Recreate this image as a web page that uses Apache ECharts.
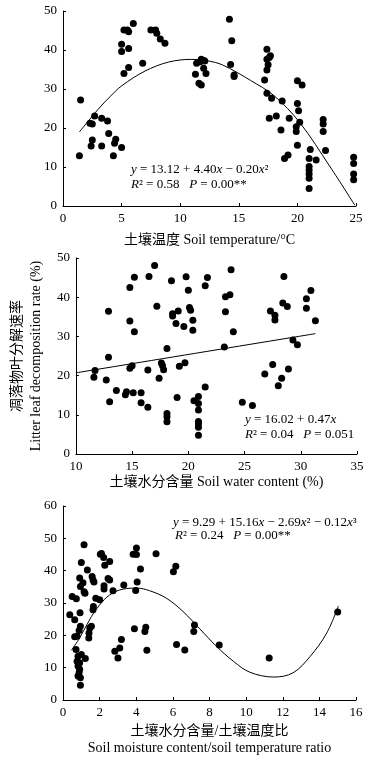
<!DOCTYPE html>
<html>
<head>
<meta charset="utf-8">
<script src="https://cdn.jsdelivr.net/npm/echarts@6/dist/echarts.min.js"></script>
<style>
html,body{margin:0;padding:0;background:#fff;}
#main{width:375px;height:758px;}
</style>
</head>
<body>
<div id="main"></div>
<script>
// panel 1: soil temperature vs decomposition rate
var tempPts = [
    [1.4,12.9],[1.5,27.2],[2.3,21.2],[2.5,21.0],[2.7,23.1],[2.4,15.4],[2.5,16.9],[3.3,22.5],[3.3,15.4],[3.8,21.8],
    [3.9,18.6],[4.3,12.9],[4.4,16.1],[4.5,17.1],[5.0,15.0],[5.0,41.5],[5.0,39.6],[5.2,45.1],[5.2,34.0],[5.5,45.1],
    [5.6,44.7],[5.6,40.4],[5.6,35.5],[6.0,46.8],[6.8,36.6],[7.5,45.1],[7.9,45.1],[8.0,44.3],[8.3,42.8],[8.7,41.7],
    [11.3,33.8],[11.4,36.6],[11.6,31.5],[11.7,37.0],[11.8,31.0],[11.8,37.6],[12.0,37.3],[12.0,35.3],[12.1,37.2],[12.2,34.0],
    [14.2,47.9],[14.4,42.4],[14.3,36.3],[14.6,33.6],[14.6,33.2],[17.2,32.3],[17.4,40.2],[17.4,37.6],[17.5,36.2],[17.4,34.9],
    [17.6,38.1],[17.7,38.5],[17.4,28.9],[17.6,22.5],[17.8,27.6],[18.2,23.1],[18.6,19.5],[18.7,26.9],[18.9,12.2],[19.2,13.1],
    [19.3,22.5],[19.9,20.3],[19.9,19.1],[20.0,26.3],[20.0,32.1],[20.0,15.6],[20.1,24.4],[20.2,21.5],[20.4,31.0],[21.1,14.5],
    [21.0,12.2],[21.0,10.1],[21.0,9.2],[21.0,8.2],[21.0,7.1],[21.0,4.5],[21.6,11.8],[22.2,22.2],[22.2,21.0],[22.2,19.1],
    [22.4,14.2],[24.8,12.5],[24.8,10.9],[24.8,8.2],[24.8,6.7]
];
var tempFit = [
    [1.4,19.0],[3,24.8],[4,28.0],[5,30.8],[7,34.6],[9,36.9],[11,37.6],[13,36.8],[14.2,35.3],
    [16,32.2],[18,28.3],[20.2,21.4],[22.8,10.0],[24.9,0.2]
];

// panel 2: soil water content
var waterPts = [
    [11.6,19.6],[11.7,21.3],[12.7,18.9],[12.9,36.4],[12.9,24.7],[13.0,13.3],[13.6,16.2],[14.4,15.1],[14.5,15.9],[14.8,42.5],
    [14.8,33.9],[14.8,21.9],[15.0,22.5],[15.1,15.6],[15.2,45.1],[15.2,31.2],[15.8,13.1],[15.8,15.6],[16.4,11.9],[16.4,21.4],
    [16.5,45.3],[17.0,48.1],[17.2,37.7],[17.4,19.3],[17.6,23.2],[17.7,22.6],[17.8,21.5],[18.1,26.9],[18.1,10.3],[18.1,9.5],
    [18.1,8.2],[18.5,44.2],[18.6,35.8],[18.6,35.2],[18.9,33.3],[19.0,14.4],[19.1,36.5],[19.2,22.4],[19.6,32.5],[19.7,23.3],
    [19.8,45.2],[20.0,41.8],[20.1,37.4],[20.2,36.7],[20.4,34.1],[20.4,31.6],[20.5,13.6],[20.9,14.7],[20.9,12.9],[20.9,11.2],
    [20.9,8.3],[20.9,7.7],[20.9,6.8],[20.9,4.8],[21.5,17.1],[21.5,42.9],[21.7,45.0],[23.2,27.3],[23.3,36.3],[23.3,40.1],
    [23.7,40.6],[23.8,47.0],[24.0,31.2],[24.8,13.2],[25.7,12.4],[26.8,20.4],[27.3,36.5],[27.5,22.8],[27.7,35.4],[27.7,34.2],
    [28.0,17.4],[28.3,19.3],[28.4,38.5],[28.5,45.3],[28.8,37.6],[28.9,21.7],[29.3,29.1],[29.7,27.9],[30.5,39.6],[30.5,37.2],
    [30.9,41.7],[31.3,34.0]
];
var waterFit = [[10,20.7],[31.3,30.7]];

// panel 3: moisture / temperature ratio
var ratioPts = [
    [0.37,26.4],[0.5,32.0],[0.64,24.8],[0.73,31.3],[0.64,19.6],[0.77,19.7],[0.93,27.0],[0.95,22.8],[0.88,21.5],[0.71,15.6],
    [0.82,13.5],[1.0,14.1],[1.22,12.8],[0.77,12.0],[0.91,11.5],[0.82,10.5],[0.91,9.5],[0.88,8.4],[0.82,7.4],[0.95,6.9],
    [0.95,4.6],[1.15,48.0],[1.0,42.5],[1.33,40.2],[0.91,37.7],[1.09,36.3],[1.59,38.2],[1.64,37.1],[1.69,36.5],[0.95,35.1],
    [1.15,33.5],[1.2,33.0],[1.66,28.9],[1.64,27.9],[1.79,31.5],[1.46,22.3],[1.55,22.8],[1.42,20.7],[1.41,19.2],[2.0,31.0],
    [2.04,45.1],[2.1,45.3],[2.22,44.1],[2.28,41.7],[2.24,35.3],[2.24,34.3],[2.46,37.6],[2.55,37.1],[2.55,42.8],[2.73,33.8],
    [2.83,15.1],[3.0,13.0],[3.1,16.1],[3.19,18.7],[3.32,35.6],[3.83,45.1],[3.9,22.0],[3.97,33.9],[4.05,36.5],[4.01,47.0],
    [4.01,45.0],[4.23,40.5],[4.47,21.2],[4.52,22.5],[4.58,15.4],[5.08,45.2],[6.03,39.7],[6.16,41.4],[6.2,17.2],[6.65,15.5],
    [7.18,23.2],[7.14,21.2],[8.53,17.0],[11.26,13.0],[15.0,27.2]
];
var ratioFit = [
    [0.46,15.4],[0.91,19.2],[1.55,25.8],[2.0,29.4],[2.55,32.5],[3.28,34.3],[4.04,34.6],[4.73,33.8],[5.64,31.5],[6.55,27.4],
    [7.47,22.0],[8.38,16.6],[9.3,12.0],[10.2,8.6],[11.5,7.1],[12.56,8.4],[13.5,13.5],[14.4,20.7],[15.04,29.1]
];

var font = '"Liberation Serif","Times New Roman","Noto Sans CJK SC",serif';
var myChart = echarts.init(document.getElementById('main'));

function xAx(idx, min, max, step, name, gap) {
    return {
        gridIndex: idx, type: 'value', min: min, max: max, interval: step,
        name: name, nameLocation: 'middle', nameGap: gap,
        nameTextStyle: {fontFamily: font, fontSize: 14, color: '#000', lineHeight: 17},
        axisLine: {lineStyle: {color: '#000', width: 1}},
        axisTick: {inside: true, length: 3, lineStyle: {color: '#000'}},
        axisLabel: {fontFamily: font, fontSize: 13, color: '#000', margin: 6},
        splitLine: {show: false}
    };
}
function yAx(idx, min, max, step, name) {
    return {
        gridIndex: idx, type: 'value', min: min, max: max, interval: step,
        name: name || '', nameLocation: 'middle', nameGap: 24, nameRotate: 90,
        nameTextStyle: {fontFamily: font, fontSize: 14, color: '#000', lineHeight: 19},
        axisLine: {show: true, lineStyle: {color: '#000', width: 1}},
        axisTick: {show: true, inside: true, length: 3, lineStyle: {color: '#000'}},
        axisLabel: {fontFamily: font, fontSize: 13, color: '#000', margin: 6},
        splitLine: {show: false}
    };
}
function dots(idx, data) {
    return {type: 'scatter', xAxisIndex: idx, yAxisIndex: idx, data: data, symbolSize: 7,
        itemStyle: {color: '#000', opacity: 1}, silent: true, z: 3};
}
function fit(idx, data) {
    return {type: 'line', xAxisIndex: idx, yAxisIndex: idx, data: data, smooth: 0.35, symbol: 'none',
        lineStyle: {color: '#000', width: 1}, silent: true, z: 2};
}
function label(x, y, txt) {
    return {type: 'text', x: x, y: y, silent: true,
        style: {text: txt, fontFamily: font, fontSize: 13, fill: '#000', verticalAlign: 'middle',
            rich: {i: {fontStyle: 'italic', fontFamily: font, fontSize: 13}}}};
}

var option = {
    backgroundColor: '#fff',
    animation: false,
    grid: [
        {left: 63, right: 19, top: 11, height: 195},
        {left: 63, right: 18, top: 258, height: 196},
        {left: 63, right: 19, top: 506, height: 195}
    ],
    xAxis: [
        xAx(0, 0, 25, 5, '土壤温度 Soil temperature/°C', 26),
        xAx(1, 10, 35, 5, '土壤水分含量 Soil water content (%)', 20),
        xAx(2, 0, 16, 2, '土壤水分含量/土壤温度比\nSoil moisture content/soil temperature ratio', 23)
    ],
    yAxis: [
        yAx(0, 0, 50, 10),
        yAx(1, 0, 50, 10, '凋落物叶分解速率\nLitter leaf decomposition rate (%)'),
        yAx(2, 0, 60, 10)
    ],
    series: [
        dots(0, tempPts), fit(0, tempFit),
        dots(1, waterPts), fit(1, waterFit),
        dots(2, ratioPts), fit(2, ratioFit)
    ],
    graphic: [
        label(131, 170, '{i|y} = 13.12 + 4.40{i|x} − 0.20{i|x}²'),
        label(131, 185, '{i|R}² = 0.58   {i|P} = 0.00**'),
        label(245, 420, '{i|y} = 16.02 + 0.47{i|x}'),
        label(245, 435, '{i|R}² = 0.04   {i|P} = 0.051'),
        label(173, 523, '{i|y} = 9.29 + 15.16{i|x} − 2.69{i|x}² − 0.12{i|x}³'),
        label(175, 536, '{i|R}² = 0.24   {i|P} = 0.00**')
    ]
};
myChart.setOption(option);
</script>
</body>
</html>
